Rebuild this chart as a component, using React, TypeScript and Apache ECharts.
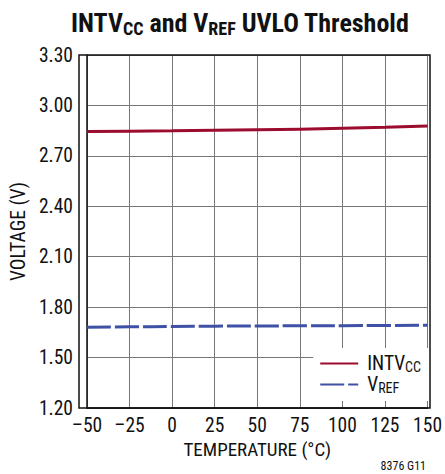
import React, { useEffect, useRef } from "react";
import * as echarts from "echarts";

const temps = [-50, -25, 0, 25, 50, 75, 100, 125, 150];
const intvcc = [2.845, 2.847, 2.849, 2.852, 2.855, 2.859, 2.864, 2.870, 2.878];
const vref = [1.681, 1.683, 1.685, 1.687, 1.688, 1.689, 1.690, 1.691, 1.692];
const xTicks = [-50, 150, 25];
const yTicks = [1.2, 3.3, 0.3];

const FONT = "'Liberation Sans Narrow', 'Roboto Condensed', 'Liberation Sans', Arial, sans-serif";

const GL = 79, GT = 55, GR = 15, GB = 66;
const FS = 19.5;

export default function App() {
  const ref = useRef<HTMLDivElement>(null);
  useEffect(() => {
    const chart = echarts.init(ref.current!, undefined, { renderer: "svg" });
    chart.setOption({
      animation: false,
      backgroundColor: "#fff",
      title: {
        text: "{b|INTV}{s|CC}{b| and V}{s|REF}{b| UVLO Threshold}",
        left: 66,
        top: 4,
        textStyle: {
          rich: {
            b: { fontFamily: FONT, fontWeight: "bold", fontSize: 26, color: "#111" },
            s: { fontFamily: FONT, fontWeight: "bold", fontSize: 18, color: "#111", verticalAlign: "bottom", padding: [10, 0, 0, 0] },
          },
        },
      },
      grid: { left: GL, right: GR, top: GT, bottom: GB, containLabel: false, show: false },
      legend: {
        right: GR + 1,
        bottom: 73,
        orient: "vertical",
        backgroundColor: "#fff",
        itemWidth: 38,
        itemHeight: 14,
        itemGap: 0,
        padding: [5, 8, 6, 6],
        itemStyle: { opacity: 0 },
        textStyle: {
          lineHeight: 21,
          rich: {
            n: { fontFamily: FONT, fontSize: FS, color: "#111", lineHeight: 21, padding: [0, 0, 0, 4] },
            s: { fontFamily: FONT, fontSize: 14, color: "#111", lineHeight: 21, verticalAlign: "bottom", padding: [6, 0, 0, 0] },
          },
        },
        formatter: (name: string) => (name === "INTVCC" ? "{n|INTV}{s|CC}" : "{n|V}{s|REF}"),
        data: ["INTVCC", "VREF"],
      },
      xAxis: {
        type: "value",
        min: xTicks[0],
        max: xTicks[1],
        interval: xTicks[2],
        name: "TEMPERATURE (°C)",
        nameLocation: "middle",
        nameGap: 32,
        nameTextStyle: { fontFamily: FONT, fontSize: 19, color: "#111" },
        axisLine: { show: true, onZero: false, lineStyle: { color: "#111", width: 1.5 } },
        axisTick: { show: false },
        axisLabel: {
          fontFamily: FONT,
          fontSize: FS,
          color: "#111",
          margin: 7,
          formatter: (v: number) => (v < 0 ? "\u2013" + Math.abs(v) : String(v)),
        },
        splitLine: { show: true, lineStyle: { color: "#777", width: 1 } },
      },
      yAxis: {
        type: "value",
        min: yTicks[0],
        max: yTicks[1],
        interval: yTicks[2],
        name: "VOLTAGE (V)",
        nameLocation: "middle",
        nameGap: 56,
        nameRotate: 90,
        nameTextStyle: { fontFamily: FONT, fontSize: FS, color: "#111" },
        axisLine: { show: true, onZero: false, lineStyle: { color: "#111", width: 1.5 } },
        axisTick: { show: false },
        axisLabel: {
          fontFamily: FONT,
          fontSize: FS,
          color: "#111",
          margin: 14,
          formatter: (v: number) => v.toFixed(2),
        },
        splitLine: { show: true, lineStyle: { color: "#777", width: 1 } },
      },
      series: [
        {
          name: "INTVCC",
          type: "line",
          symbol: "none",
          smooth: true,
          data: temps.map((t, i) => [t, intvcc[i]]),
          lineStyle: { color: "#9b0c2e", width: 3 },
          itemStyle: { color: "#9b0c2e" },
          z: 5,
        },
        {
          name: "VREF",
          type: "line",
          symbol: "none",
          smooth: true,
          data: temps.map((t, i) => [t, vref[i]]),
          lineStyle: { color: "#3e51a6", width: 3, type: [24, 4] },
          itemStyle: { color: "#3e51a6" },
          z: 5,
        },
      ],
      graphic: [
        {
          type: "rect",
          shape: { x: GL, y: GT, width: 445 - GL - GR, height: 474 - GT - GB },
          style: { fill: "none", stroke: "#111", lineWidth: 1.5 },
          z: 10,
          silent: true,
        },
        {
          type: "text",
          right: 19,
          top: 460,
          style: { text: "8376 G11", fontFamily: FONT, fontSize: 12, fill: "#111" },
        },
      ],
    });
    return () => chart.dispose();
  }, []);
  return <div ref={ref} style={{ width: 445, height: 474, position: "absolute", left: 0, top: 0 }} />;
}
